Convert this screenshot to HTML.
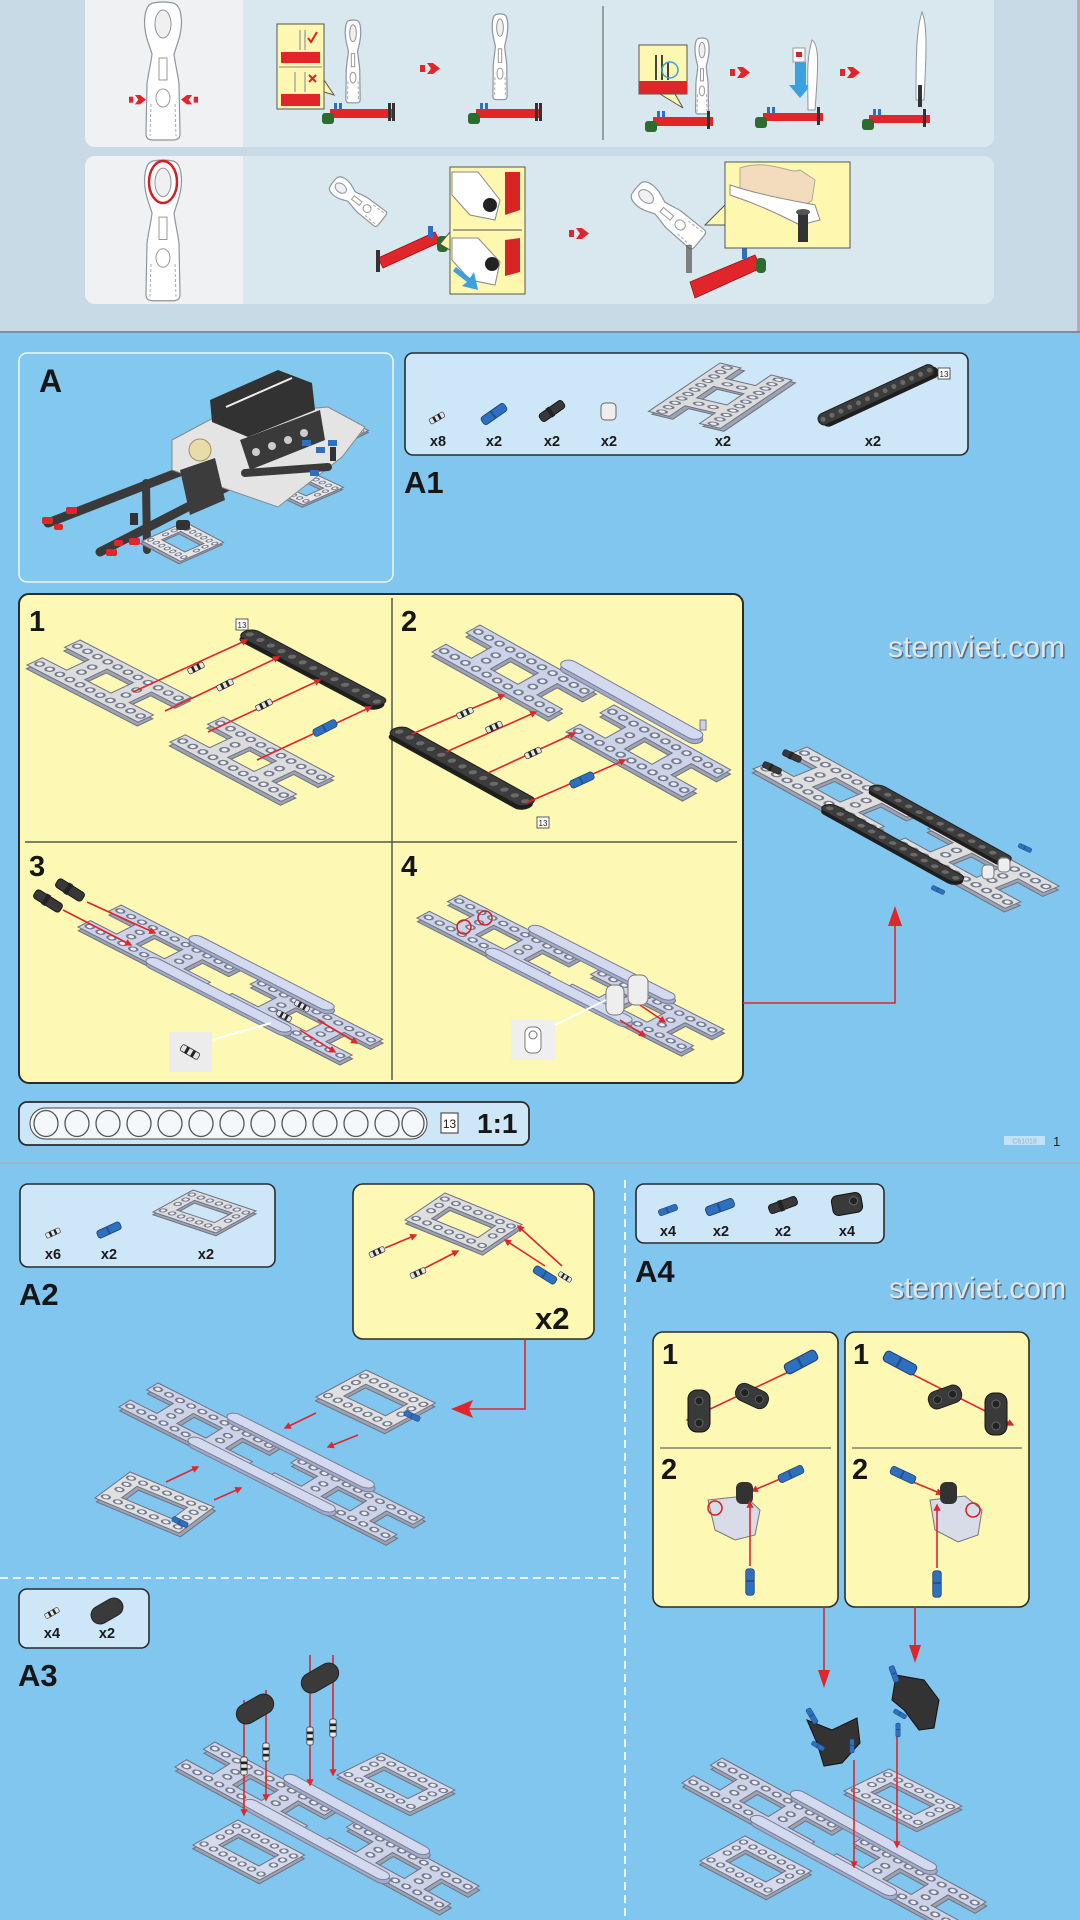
<!DOCTYPE html>
<html><head><meta charset="utf-8">
<style>
html,body{margin:0;padding:0;background:#80c6ee;width:1080px;height:1920px;overflow:hidden;}
svg{display:block;}
text{font-family:"Liberation Sans",Arial,sans-serif;}
.lb{font-weight:bold;font-size:14.5px;fill:#1a1a1a;text-anchor:middle;}
.big{font-weight:bold;fill:#161616;}
.rl{stroke:#e0262b;stroke-width:1.6;fill:none;}
</style></head><body>
<svg width="1080" height="1920" viewBox="0 0 1080 1920" xmlns="http://www.w3.org/2000/svg">
<defs>
 <marker id="ah" viewBox="0 0 10 10" refX="8" refY="5" markerWidth="4.5" markerHeight="4.5" orient="auto"><path d="M0,0 L10,5 L0,10 z" fill="#e0262b"/></marker>
 <g id="fH">
  <path fill-rule="evenodd" fill="#9ea3b2" stroke="#6d7282" stroke-width="1" vector-effect="non-scaling-stroke" transform="translate(0.35,0.4)" d="M0,0H11V1.45H8.6V3.55H11V5H0V3.55H2.4V1.45H0Z M4.2,1.45H6.8V3.55H4.2Z"/>
  <path fill-rule="evenodd" stroke="#6d7282" stroke-width="1" vector-effect="non-scaling-stroke" d="M0,0H11V1.45H8.6V3.55H11V5H0V3.55H2.4V1.45H0Z M4.2,1.45H6.8V3.55H4.2Z"/>
  <path d="M0.5,0.72H10.6M0.5,4.28H10.6M3.3,2V3.2M7.7,2V3.2" stroke="#767c8e" stroke-width="0.76" stroke-linecap="round" stroke-dasharray="0 1" fill="none"/>
  <path d="M0.5,0.72H10.6M0.5,4.28H10.6M3.3,2V3.2M7.7,2V3.2" stroke="#eceef4" stroke-width="0.42" stroke-linecap="round" stroke-dasharray="0 1" fill="none"/>
 </g>
 <g id="fO">
  <path fill-rule="evenodd" fill="#9ea3b2" stroke="#6d7282" stroke-width="1" vector-effect="non-scaling-stroke" transform="translate(0.35,0.4)" d="M0,0H7V5H0Z M1.4,1.4H5.6V3.6H1.4Z"/>
  <path fill-rule="evenodd" stroke="#6d7282" stroke-width="1" vector-effect="non-scaling-stroke" d="M0,0H7V5H0Z M1.4,1.4H5.6V3.6H1.4Z"/>
  <path d="M0.5,0.7H6.6M0.5,4.3H6.6M0.7,1.7V3.7M6.3,1.7V3.7" stroke="#767c8e" stroke-width="0.74" stroke-linecap="round" stroke-dasharray="0 1" fill="none"/>
  <path d="M0.5,0.7H6.6M0.5,4.3H6.6M0.7,1.7V3.7M6.3,1.7V3.7" stroke="#eceef4" stroke-width="0.42" stroke-linecap="round" stroke-dasharray="0 1" fill="none"/>
 </g>
 <g id="bmD"><rect width="13" height="1.2" rx="0.6" fill="#1f1f1f" transform="translate(0.3,0.35)"/><rect width="13" height="1.2" rx="0.6" fill="#3c3c3c" stroke="#1e1e1e" stroke-width="1" vector-effect="non-scaling-stroke"/><path d="M0.5,0.6H12.6" stroke="#6a6a6a" stroke-width="0.5" stroke-linecap="round" stroke-dasharray="0 1" fill="none"/></g>
 <g id="bmL"><rect width="13" height="1.2" rx="0.6" fill="#a3abc6" stroke="#767d96" stroke-width="1" vector-effect="non-scaling-stroke" transform="translate(0.35,0.4)"/><rect width="13" height="1.2" rx="0.6" fill="#d3d9ee" stroke="#767d96" stroke-width="1" vector-effect="non-scaling-stroke"/></g>
 <g id="chL">
  <use href="#fH" fill="#ccd2e7"/>
  <use href="#fH" x="13" fill="#ccd2e7"/>
  <use href="#bmL" x="6" y="-1.1"/>
  <use href="#bmL" x="6" y="3.9"/>
 </g>
 <g id="chD">
  <use href="#fH" fill="#dedede"/>
  <use href="#fH" x="13" fill="#dedede"/>
  <use href="#bmD" x="6.5" y="-0.3"/>
  <use href="#bmD" x="6.5" y="4.1"/>
 </g>
 <g id="pinBW"><rect x="-10" y="-3.5" width="20" height="7" rx="2" fill="#e6e6e6" stroke="#333" stroke-width="0.8"/><rect x="-5" y="-3.5" width="3" height="7" fill="#222"/><rect x="2" y="-3.5" width="3" height="7" fill="#222"/></g>
 <g id="pinB"><rect x="-14" y="-4.5" width="28" height="9" rx="3" fill="#2f6fbf" stroke="#1b3f70" stroke-width="0.8"/><rect x="-2" y="-4.5" width="2" height="9" fill="#1f5294"/></g>
 <g id="pinK"><rect x="-14" y="-4.5" width="28" height="9" rx="3" fill="#383838" stroke="#111" stroke-width="0.8"/><rect x="-4" y="-5.5" width="4" height="11" fill="#222"/></g>
 <g id="conK"><rect x="-17" y="-9" width="34" height="18" rx="8" fill="#3a3a3a" stroke="#151515" stroke-width="0.8"/><circle cx="-8" cy="0" r="4" fill="#222" stroke="#666" stroke-width="0.8"/><circle cx="8" cy="0" r="4" fill="#222" stroke="#666" stroke-width="0.8"/></g>
 <g id="wr">
  <path d="M-10,1 C-19,3 -21,22 -15,40 L-11,52 C-12,62 -15,72 -16,82 L-17,132 Q-17,138 -10,138 L10,138 Q17,138 17,132 L16,82 C15,72 12,62 11,52 L15,40 C21,22 19,3 10,1 Q0,-1 -10,1 Z" fill="#fff" stroke="#8e959c" stroke-width="1.2" vector-effect="non-scaling-stroke"/>
  <ellipse cx="0" cy="22" rx="8" ry="14" fill="#f0f0f0" stroke="#8e959c" stroke-width="1" vector-effect="non-scaling-stroke"/>
  <rect x="-4" y="56" width="8" height="22" fill="none" stroke="#999" stroke-width="1" vector-effect="non-scaling-stroke"/>
  <ellipse cx="0" cy="96" rx="7" ry="9" fill="none" stroke="#999" stroke-width="1" vector-effect="non-scaling-stroke"/>
  <path d="M-12,102 L-13,134 M12,102 L13,134" stroke="#aaa" stroke-dasharray="3 2" stroke-width="1" vector-effect="non-scaling-stroke"/>
 </g>
 <g id="rarr"><rect x="0" y="2" width="5" height="7" fill="#e0262b"/><polygon points="7,0 13,0 20,5.5 13,11 7,11 11,5.5" fill="#e0262b"/></g>
</defs>

<!-- ============ TOP SECTION ============ -->
<rect x="0" y="0" width="1080" height="333" fill="#c8dae5"/>
<rect x="1077" y="0" width="3" height="333" fill="#b9a9b0"/>
<rect x="85" y="-12" width="909" height="159" rx="10" fill="#d9e7ef"/>
<rect x="85" y="-12" width="158" height="159" rx="10" fill="#f0f1f2"/>
<rect x="230" y="-12" width="13" height="159" fill="#f0f1f2"/>
<rect x="85" y="156" width="909" height="148" rx="10" fill="#d9e7ef"/>
<rect x="85" y="156" width="158" height="148" rx="10" fill="#f0f1f2"/>
<rect x="230" y="156" width="13" height="148" fill="#f0f1f2"/>
<line x1="603" y1="6" x2="603" y2="140" stroke="#555" stroke-width="1"/>
<rect x="0" y="331" width="1080" height="2" fill="#7f8d98"/>

<!-- panel1 left wrench -->
<use href="#wr" transform="translate(163,2)"/>
<use href="#rarr" transform="translate(129,95) scale(0.85)"/>
<use href="#rarr" transform="translate(198,95) scale(-0.85,0.85)"/>
<!-- panel1 callout 1 -->
<rect x="277" y="24" width="47" height="85" fill="#fdf7b0" stroke="#555" stroke-width="1"/>
<polygon points="324,80 334,95 324,92" fill="#fdf7b0" stroke="#555" stroke-width="1"/>
<rect x="281" y="52" width="39" height="11" fill="#e0262b"/>
<rect x="281" y="94" width="39" height="12" fill="#e0262b"/>
<line x1="279" y1="67" x2="322" y2="67" stroke="#888" stroke-width="1"/>
<path d="M300,30 V50 M305,30 V50 M295,72 V92 M305,72 V92" stroke="#aaa" stroke-width="1.5"/>
<path d="M308,38 l3,4 l6,-10" stroke="#d22" stroke-width="2" fill="none"/>
<path d="M309,75 l7,7 M316,75 l-7,7" stroke="#d22" stroke-width="2"/>
<use href="#wr" transform="translate(353,20) scale(0.42,0.6)"/>
<rect x="330" y="109" width="64" height="9" fill="#e0262b"/>
<rect x="322" y="113" width="12" height="11" rx="3" fill="#2e6b2e"/>
<rect x="334" y="103" width="3" height="7" fill="#2f6fbf"/><rect x="339" y="103" width="3" height="7" fill="#2f6fbf"/>
<rect x="388" y="103" width="3" height="18" fill="#333"/><rect x="392" y="103" width="3" height="18" fill="#333"/>
<use href="#rarr" transform="translate(420,63)"/>
<use href="#wr" transform="translate(500,14) scale(0.42,0.62)"/>
<rect x="476" y="109" width="65" height="9" fill="#e0262b"/>
<rect x="468" y="113" width="12" height="11" rx="3" fill="#2e6b2e"/>
<rect x="480" y="103" width="3" height="7" fill="#2f6fbf"/><rect x="485" y="103" width="3" height="7" fill="#2f6fbf"/>
<rect x="535" y="103" width="3" height="18" fill="#333"/><rect x="539" y="103" width="3" height="18" fill="#333"/>
<!-- panel1 right half -->
<rect x="639" y="45" width="48" height="49" fill="#fdf7b0" stroke="#555" stroke-width="1"/>
<rect x="639" y="81" width="48" height="13" fill="#e0262b"/>
<polygon points="660,94 683,108 675,94" fill="#fdf7b0" stroke="#555" stroke-width="1"/>
<path d="M656,55 V80 M662,55 V80 M668,62 V80" stroke="#444" stroke-width="2"/>
<circle cx="670" cy="70" r="8" fill="none" stroke="#3aa0e0" stroke-width="1.5"/>
<use href="#wr" transform="translate(702,38) scale(0.38,0.55)"/>
<rect x="653" y="117" width="60" height="9" fill="#e0262b"/>
<rect x="645" y="121" width="12" height="11" rx="3" fill="#2e6b2e"/>
<rect x="657" y="111" width="3" height="7" fill="#2f6fbf"/><rect x="662" y="111" width="3" height="7" fill="#2f6fbf"/>
<rect x="707" y="111" width="3" height="18" fill="#333"/>
<use href="#rarr" transform="translate(730,67)"/>
<polygon points="795,62 806,62 806,85 811,85 800,98 789,85 795,85" fill="#3aa0e0"/>
<rect x="793" y="48" width="12" height="14" fill="#fff" stroke="#999"/>
<rect x="796" y="52" width="6" height="5" fill="#d22"/>
<path d="M812,40 C820,45 818,70 815,110 L808,110 C808,80 806,60 812,40 Z" fill="#fff" stroke="#8e959c"/>
<rect x="763" y="113" width="60" height="8" fill="#e0262b"/>
<rect x="755" y="117" width="12" height="11" rx="3" fill="#2e6b2e"/>
<rect x="767" y="107" width="3" height="7" fill="#2f6fbf"/><rect x="772" y="107" width="3" height="7" fill="#2f6fbf"/>
<rect x="817" y="107" width="3" height="18" fill="#333"/>
<use href="#rarr" transform="translate(840,67)"/>
<path d="M922,12 C928,25 926,60 924,100 L916,100 C916,60 916,30 922,12 Z" fill="#fff" stroke="#8e959c"/>
<rect x="918" y="85" width="4" height="22" fill="#333"/>
<rect x="869" y="115" width="61" height="8" fill="#e0262b"/>
<rect x="862" y="119" width="12" height="11" rx="3" fill="#2e6b2e"/>
<rect x="873" y="109" width="3" height="7" fill="#2f6fbf"/><rect x="878" y="109" width="3" height="7" fill="#2f6fbf"/>
<rect x="923" y="109" width="3" height="18" fill="#333"/>

<!-- panel2 -->
<use href="#wr" transform="translate(163,160) scale(1,1.02)"/>
<ellipse cx="163" cy="182" rx="14" ry="21" fill="none" stroke="#d42020" stroke-width="2.5"/>
<use href="#wr" transform="translate(333,182) rotate(-52) scale(0.55,0.45)"/>
<polygon points="378,258 435,232 440,242 383,268" fill="#e0262b" stroke="#a01010" stroke-width="0.8"/>
<rect x="376" y="250" width="4" height="22" fill="#333"/>
<rect x="428" y="226" width="5" height="12" fill="#2f6fbf"/>
<rect x="437" y="236" width="11" height="16" rx="4" fill="#2e6b2e"/>
<rect x="450" y="167" width="75" height="127" fill="#fdf7b0" stroke="#555" stroke-width="1"/>
<polygon points="450,232 440,244 450,250" fill="#fdf7b0" stroke="#555" stroke-width="1"/>
<line x1="453" y1="230" x2="522" y2="230" stroke="#555" stroke-width="1"/>
<path d="M452,172 L478,172 L500,200 L495,220 L470,215 L452,195 Z" fill="#fff" stroke="#888"/>
<polygon points="505,172 520,172 520,210 505,215" fill="#d82424"/>
<circle cx="490" cy="205" r="7" fill="#222"/>
<path d="M452,238 L478,238 L500,262 L495,285 L470,280 L452,260 Z" fill="#fff" stroke="#888"/>
<polygon points="505,240 520,238 520,272 505,276" fill="#d82424"/>
<circle cx="492" cy="264" r="7" fill="#222"/>
<polygon points="456,267 470,278 474,272 478,290 462,286 467,282 453,271" fill="#3aa0e0"/>
<use href="#rarr" transform="translate(569,228)"/>
<use href="#wr" transform="translate(636,188) rotate(-50) scale(0.7,0.6)"/>
<rect x="686" y="245" width="6" height="28" fill="#555" opacity="0.7"/>
<polygon points="690,282 755,255 761,268 695,298" fill="#e0262b" stroke="#a01010" stroke-width="0.8"/>
<rect x="742" y="246" width="5" height="13" fill="#2f6fbf"/>
<rect x="756" y="258" width="10" height="15" rx="4" fill="#2e6b2e"/>
<rect x="725" y="162" width="125" height="86" fill="#fdf7b0" stroke="#555" stroke-width="1"/>
<polygon points="725,205 705,225 725,225" fill="#fdf7b0" stroke="#555" stroke-width="1"/>
<path d="M740,168 C770,158 790,175 800,170 L815,180 L812,200 L800,210 C780,200 760,195 740,190 Z" fill="#f2dcbd" stroke="#aa9"/>
<path d="M730,185 C760,195 790,200 815,205 L820,220 L800,225 C780,215 760,205 730,195 Z" fill="#fff" stroke="#888"/>
<rect x="798" y="212" width="10" height="30" fill="#333"/>
<ellipse cx="803" cy="212" rx="7" ry="3" fill="#555"/>

<!-- ============ BLUE PAGE 1 ============ -->
<rect x="0" y="334" width="1080" height="830" fill="#80c6ee"/>
<!-- A box -->
<rect x="19" y="353" width="374" height="229" rx="8" fill="#82c8ef" stroke="#eef7fc" stroke-width="1.5"/>
<text x="39" y="392" class="big" font-size="32">A</text>
<!-- A model -->
<line x1="48" y1="523" x2="205" y2="462" stroke="#3a3a3a" stroke-width="9" stroke-linecap="round"/>
<line x1="100" y1="552" x2="250" y2="475" stroke="#3a3a3a" stroke-width="9" stroke-linecap="round"/>
<line x1="146" y1="483" x2="147" y2="550" stroke="#3a3a3a" stroke-width="8" stroke-linecap="round"/>
<use href="#fO" fill="#e6e6e6" transform="matrix(5.5,2.9,-8.6,3.8,185,522)"/>
<use href="#fO" fill="#e6e6e6" transform="matrix(6.2,2.9,-8,3.5,300,467)"/>
<use href="#fO" fill="#e6e6e6" transform="matrix(5.5,2.5,-6,3,330,413)"/>
<polygon points="172,440 215,417 328,407 365,427 342,457 278,507 172,470" fill="#e4e4e4" stroke="#888" stroke-width="1"/>
<line x1="245" y1="473" x2="328" y2="467" stroke="#3a3a3a" stroke-width="8" stroke-linecap="round"/>
<polygon points="240,440 320,410 325,440 250,470" fill="#3a3a3a"/>
<circle cx="256" cy="452" r="4" fill="#ccc"/><circle cx="272" cy="446" r="4" fill="#ccc"/><circle cx="288" cy="440" r="4" fill="#ccc"/><circle cx="304" cy="433" r="4" fill="#ccc"/>
<polygon points="210,400 278,370 312,383 315,410 248,437 212,422" fill="#323232"/>
<line x1="226" y1="407" x2="292" y2="378" stroke="#eee" stroke-width="2"/>
<polygon points="180,470 215,458 225,500 190,515" fill="#3c3c3c"/>
<circle cx="200" cy="450" r="11" fill="#e8dca8" stroke="#a09060" stroke-width="1"/>
<rect x="302" y="440" width="9" height="6" fill="#2f6fbf"/><rect x="316" y="447" width="9" height="6" fill="#2f6fbf"/><rect x="328" y="440" width="9" height="6" fill="#2f6fbf"/><rect x="310" y="470" width="9" height="6" fill="#2f6fbf"/>
<rect x="330" y="447" width="6" height="14" fill="#333"/>
<rect x="42" y="517" width="11" height="7" rx="2" fill="#e0262b"/><rect x="66" y="507" width="11" height="7" rx="2" fill="#e0262b"/>
<rect x="106" y="549" width="11" height="7" rx="2" fill="#e0262b"/><rect x="129" y="538" width="11" height="7" rx="2" fill="#e0262b"/>
<rect x="54" y="524" width="9" height="6" rx="2" fill="#e0262b"/><rect x="114" y="540" width="9" height="6" rx="2" fill="#e0262b"/>
<rect x="176" y="520" width="14" height="10" rx="3" fill="#333"/><rect x="130" y="513" width="8" height="12" fill="#333"/>

<!-- A1 parts box -->
<rect x="405" y="353" width="563" height="102" rx="8" fill="#cde6f8" stroke="#2b2b2b" stroke-width="1.6"/>
<use href="#pinBW" transform="translate(437,418) rotate(-30) scale(0.8)"/>
<use href="#pinB" transform="translate(494,414) rotate(-35)"/>
<use href="#pinK" transform="translate(552,411) rotate(-35)"/>
<rect x="601" y="403" width="15" height="17" rx="4" fill="#eee" stroke="#666" stroke-width="1"/>
<use href="#fH" fill="#dcdcdc" transform="matrix(-6.5,4.4,14.4,3.4,720,363)"/>
<use href="#bmD" transform="matrix(8.85,-4.1,4.5,9,816,416)"/>
<rect x="938" y="368" width="12" height="11" fill="#fff" stroke="#333" stroke-width="0.8"/>
<text x="944" y="377" font-size="8" text-anchor="middle" fill="#222">13</text>
<text x="438" y="446" class="lb">x8</text>
<text x="494" y="446" class="lb">x2</text>
<text x="552" y="446" class="lb">x2</text>
<text x="609" y="446" class="lb">x2</text>
<text x="723" y="446" class="lb">x2</text>
<text x="873" y="446" class="lb">x2</text>
<text x="404" y="493" class="big" font-size="31">A1</text>

<!-- watermark 1 -->
<text x="889.5" y="658.5" font-size="30" fill="#5d6f7e" textLength="177" lengthAdjust="spacingAndGlyphs">stemviet.com</text>
<text x="888" y="657" font-size="30" fill="#e2e6ea" textLength="177" lengthAdjust="spacingAndGlyphs">stemviet.com</text>

<!-- step box -->
<rect x="19" y="594" width="724" height="489" rx="10" fill="#fdf9b4" stroke="#2b2b2b" stroke-width="2"/>
<line x1="392" y1="598" x2="392" y2="1080" stroke="#555" stroke-width="1.5"/>
<line x1="25" y1="842" x2="737" y2="842" stroke="#555" stroke-width="1.5"/>
<text x="29" y="631" class="big" font-size="29">1</text>
<text x="401" y="631" class="big" font-size="29">2</text>
<text x="29" y="876" class="big" font-size="29">3</text>
<text x="401" y="876" class="big" font-size="29">4</text>

<!-- step 1 -->
<use href="#fH" fill="#dcdcdc" transform="matrix(10.1,5.2,-10.6,5,80,640)"/>
<use href="#fH" fill="#dcdcdc" transform="matrix(10.1,5.4,-10.6,5,223,717)"/>
<use href="#bmD" transform="matrix(10.6,5.6,-10.6,5,252,628) scale(1,1.2)"/>
<rect x="236" y="619" width="12" height="11" fill="#fff" stroke="#333" stroke-width="0.8"/>
<text x="242" y="628" font-size="8" text-anchor="middle" fill="#222">13</text>
<line x1="133" y1="692" x2="247" y2="640" class="rl" marker-end="url(#ah)"/>
<line x1="165" y1="711" x2="279" y2="657" class="rl" marker-end="url(#ah)"/>
<line x1="208" y1="732" x2="320" y2="680" class="rl" marker-end="url(#ah)"/>
<line x1="257" y1="760" x2="371" y2="707" class="rl" marker-end="url(#ah)"/>
<use href="#pinBW" transform="translate(196,668) rotate(-27) scale(0.85)"/>
<use href="#pinBW" transform="translate(225,685) rotate(-27) scale(0.85)"/>
<use href="#pinBW" transform="translate(264,705) rotate(-27) scale(0.85)"/>
<use href="#pinB" transform="translate(325,728) rotate(-27) scale(0.9)"/>

<!-- step 2 -->
<use href="#fH" fill="#ccd2e7" transform="matrix(10.6,5.9,-9.6,5.4,480,625)"/>
<use href="#bmL" transform="matrix(10.6,5.9,-9.6,5.4,480,625) translate(7,-1.5)"/>
<use href="#fH" fill="#ccd2e7" transform="matrix(10.6,5.9,-9.6,5.4,480,625) translate(13.1,0.5)"/>
<rect x="700" y="720" width="6" height="10" fill="#ccd2e7" stroke="#767d96"/>
<use href="#bmD" transform="matrix(10.5,5.8,-10.6,5,402,725) scale(1,1.25)"/>
<rect x="537" y="817" width="12" height="11" fill="#fff" stroke="#333" stroke-width="0.8"/>
<text x="543" y="826" font-size="8" text-anchor="middle" fill="#222">13</text>
<line x1="412" y1="734" x2="504" y2="695" class="rl" marker-end="url(#ah)"/>
<line x1="446" y1="752" x2="536" y2="712" class="rl" marker-end="url(#ah)"/>
<line x1="488" y1="773" x2="575" y2="733" class="rl" marker-end="url(#ah)"/>
<line x1="526" y1="803" x2="625" y2="760" class="rl" marker-end="url(#ah)"/>
<use href="#pinBW" transform="translate(465,713) rotate(-25) scale(0.85)"/>
<use href="#pinBW" transform="translate(494,727) rotate(-25) scale(0.85)"/>
<use href="#pinBW" transform="translate(533,753) rotate(-25) scale(0.85)"/>
<use href="#pinB" transform="translate(582,780) rotate(-25) scale(0.9)"/>

<!-- step 3 -->
<use href="#chL" transform="matrix(10.9,5.6,-8.6,4.4,121,905)"/>
<use href="#pinK" transform="translate(48,901) rotate(32) scale(1.1)"/>
<use href="#pinK" transform="translate(70,890) rotate(32) scale(1.1)"/>
<line x1="63" y1="910" x2="131" y2="945" class="rl" marker-end="url(#ah)"/>
<line x1="87" y1="902" x2="155" y2="933" class="rl" marker-end="url(#ah)"/>
<use href="#pinBW" transform="translate(284,1016) rotate(30) scale(0.8)"/>
<use href="#pinBW" transform="translate(302,1006) rotate(30) scale(0.8)"/>
<line x1="300" y1="1030" x2="335" y2="1052" class="rl" marker-end="url(#ah)"/>
<line x1="318" y1="1020" x2="357" y2="1043" class="rl" marker-end="url(#ah)"/>
<line x1="212" y1="1040" x2="271" y2="1023" stroke="#fff" stroke-width="2"/>
<rect x="169" y="1032" width="43" height="40" fill="#ececec"/>
<use href="#pinBW" transform="translate(190,1052) rotate(30)"/>

<!-- step 4 -->
<use href="#chL" transform="matrix(11,5.6,-8.6,4.6,460,895)"/>
<circle cx="464" cy="927" r="7" fill="none" stroke="#d42020" stroke-width="1.6"/>
<circle cx="485" cy="918" r="7" fill="none" stroke="#d42020" stroke-width="1.6"/>
<rect x="606" y="985" width="18" height="30" rx="7" fill="#eee" stroke="#777"/>
<rect x="628" y="975" width="20" height="30" rx="7" fill="#eee" stroke="#777"/>
<line x1="640" y1="1005" x2="665" y2="1022" class="rl" marker-end="url(#ah)"/>
<line x1="620" y1="1020" x2="645" y2="1036" class="rl" marker-end="url(#ah)"/>
<line x1="555" y1="1025" x2="606" y2="1000" stroke="#fff" stroke-width="2"/>
<rect x="511" y="1020" width="44" height="40" fill="#efefef"/>
<rect x="525" y="1027" width="16" height="26" rx="6" fill="#fff" stroke="#777"/>
<circle cx="533" cy="1035" r="4" fill="none" stroke="#777"/>

<!-- result -->
<use href="#chD" transform="matrix(10.5,5.8,-10.8,4.4,807,747)"/>
<use href="#pinK" transform="translate(792,756) rotate(25) scale(0.7)"/>
<use href="#pinK" transform="translate(772,768) rotate(25) scale(0.7)"/>
<use href="#pinB" transform="translate(1025,848) rotate(25) scale(0.5)"/>
<use href="#pinB" transform="translate(938,890) rotate(25) scale(0.5)"/>
<rect x="982" y="865" width="12" height="14" rx="4" fill="#eee" stroke="#777"/>
<rect x="998" y="858" width="12" height="14" rx="4" fill="#eee" stroke="#777"/>
<path d="M743,1003 H895 V922" class="rl"/>
<polygon points="895,906 888,926 902,926" fill="#e0262b"/>

<!-- ruler -->
<rect x="19" y="1102" width="510" height="43" rx="8" fill="#cde6f8" stroke="#2b2b2b" stroke-width="1.8"/>
<rect x="30" y="1108" width="397" height="31" rx="15.5" fill="#f4f8fb" stroke="#444" stroke-width="1"/>
<g fill="none" stroke="#555" stroke-width="1.3">
<ellipse cx="46" cy="1123.5" rx="12" ry="13"/><ellipse cx="77" cy="1123.5" rx="12" ry="13"/><ellipse cx="108" cy="1123.5" rx="12" ry="13"/><ellipse cx="139" cy="1123.5" rx="12" ry="13"/><ellipse cx="170" cy="1123.5" rx="12" ry="13"/><ellipse cx="201" cy="1123.5" rx="12" ry="13"/><ellipse cx="232" cy="1123.5" rx="12" ry="13"/><ellipse cx="263" cy="1123.5" rx="12" ry="13"/><ellipse cx="294" cy="1123.5" rx="12" ry="13"/><ellipse cx="325" cy="1123.5" rx="12" ry="13"/><ellipse cx="356" cy="1123.5" rx="12" ry="13"/><ellipse cx="387" cy="1123.5" rx="12" ry="13"/><ellipse cx="413" cy="1123.5" rx="11" ry="13"/>
</g>
<rect x="441" y="1113" width="17" height="20" fill="#fff" stroke="#333" stroke-width="1"/>
<text x="449.5" y="1128" font-size="12" text-anchor="middle" fill="#222">13</text>
<text x="477" y="1133" class="big" font-size="28">1:1</text>
<rect x="1004" y="1136" width="41" height="9" fill="#c3e2f7"/>
<text x="1024.5" y="1143.5" font-size="7" text-anchor="middle" fill="#8fb0c6">C61018</text>
<text x="1053" y="1146" font-size="13" fill="#222">1</text>
<rect x="0" y="1162" width="1080" height="2" fill="#9fb5c4"/>

<!-- ============ BLUE PAGE 2 ============ -->
<line x1="0" y1="1578" x2="625" y2="1578" stroke="#eef7fc" stroke-width="2" stroke-dasharray="8 5"/>
<line x1="625" y1="1180" x2="625" y2="1920" stroke="#eef7fc" stroke-width="2" stroke-dasharray="8 5"/>

<!-- A2 -->
<rect x="20" y="1184" width="255" height="83" rx="8" fill="#cde6f8" stroke="#2b2b2b" stroke-width="1.6"/>
<use href="#pinBW" transform="translate(53,1233) rotate(-25) scale(0.75)"/>
<use href="#pinB" transform="translate(109,1230) rotate(-25) scale(0.9)"/>
<use href="#fO" fill="#dedede" transform="matrix(9,3,-8,4.4,193,1190)"/>
<text x="53" y="1259" class="lb">x6</text>
<text x="109" y="1259" class="lb">x2</text>
<text x="206" y="1259" class="lb">x2</text>
<text x="19" y="1305" class="big" font-size="31">A2</text>

<rect x="353" y="1184" width="241" height="155" rx="10" fill="#fdf9b4" stroke="#2b2b2b" stroke-width="1.6"/>
<use href="#fO" fill="#dedede" transform="matrix(11,4.5,-8,5.4,445,1193)"/>
<line x1="385" y1="1248" x2="416" y2="1235" class="rl" marker-end="url(#ah)"/>
<line x1="425" y1="1268" x2="458" y2="1251" class="rl" marker-end="url(#ah)"/>
<line x1="545" y1="1266" x2="505" y2="1240" class="rl" marker-end="url(#ah)"/>
<line x1="562" y1="1266" x2="518" y2="1226" class="rl" marker-end="url(#ah)"/>
<use href="#pinBW" transform="translate(377,1252) rotate(-25) scale(0.8)"/>
<use href="#pinBW" transform="translate(418,1273) rotate(-25) scale(0.8)"/>
<use href="#pinB" transform="translate(545,1275) rotate(32) scale(0.9)"/>
<use href="#pinBW" transform="translate(565,1277) rotate(32) scale(0.7)"/>
<text x="535" y="1329" class="big" font-size="31">x2</text>
<path d="M525,1339 V1409 H468" class="rl" stroke-width="2"/>
<polygon points="451,1409 473,1400 469,1409 473,1418" fill="#e0262b"/>

<use href="#chL" transform="matrix(11.1,5.6,-7.8,4.8,158,1383)"/>
<use href="#fO" fill="#e0e0e0" transform="matrix(9.9,4.7,-10,5.4,366,1370)"/>
<use href="#fO" fill="#e0e0e0" transform="matrix(12,5,-7,5.2,130,1472)"/>
<use href="#pinB" transform="translate(412,1416) rotate(25) scale(0.6)"/>
<use href="#pinB" transform="translate(180,1522) rotate(25) scale(0.6)"/>
<line x1="316" y1="1413" x2="285" y2="1428" class="rl" marker-end="url(#ah)"/>
<line x1="358" y1="1435" x2="328" y2="1447" class="rl" marker-end="url(#ah)"/>
<line x1="166" y1="1482" x2="198" y2="1467" class="rl" marker-end="url(#ah)"/>
<line x1="214" y1="1500" x2="241" y2="1488" class="rl" marker-end="url(#ah)"/>

<!-- A3 -->
<rect x="19" y="1589" width="130" height="59" rx="8" fill="#cde6f8" stroke="#2b2b2b" stroke-width="1.6"/>
<use href="#pinBW" transform="translate(52,1613) rotate(-30) scale(0.75)"/>
<g transform="translate(107,1611) rotate(-30)"><rect x="-17" y="-9" width="34" height="18" rx="9" fill="#3a3a3a" stroke="#222"/></g>
<text x="52" y="1638" class="lb">x4</text>
<text x="107" y="1638" class="lb">x2</text>
<text x="18" y="1686" class="big" font-size="31">A3</text>

<g id="asm">
 <use href="#chL" transform="matrix(11,6,-8,5,215,1742)"/>
 <use href="#fO" fill="#d6dbec" transform="matrix(10.4,5.3,-9,4.4,382,1753)"/>
 <use href="#fO" fill="#d6dbec" transform="matrix(9.5,5,-9,5,238,1820)"/>
</g>
<line x1="244" y1="1700" x2="244" y2="1815" class="rl" marker-end="url(#ah)"/>
<line x1="266" y1="1690" x2="266" y2="1800" class="rl" marker-end="url(#ah)"/>
<line x1="310" y1="1655" x2="310" y2="1785" class="rl" marker-end="url(#ah)"/>
<line x1="333" y1="1655" x2="333" y2="1775" class="rl" marker-end="url(#ah)"/>
<g transform="translate(255,1709) rotate(-30)"><rect x="-20" y="-10" width="40" height="20" rx="10" fill="#3a3a3a" stroke="#222"/></g>
<g transform="translate(320,1678) rotate(-30)"><rect x="-20" y="-10" width="40" height="20" rx="10" fill="#3a3a3a" stroke="#222"/></g>
<use href="#pinBW" transform="translate(244,1766) rotate(90) scale(0.9)"/>
<use href="#pinBW" transform="translate(266,1752) rotate(90) scale(0.9)"/>
<use href="#pinBW" transform="translate(310,1736) rotate(90) scale(0.9)"/>
<use href="#pinBW" transform="translate(333,1728) rotate(90) scale(0.9)"/>

<!-- A4 -->
<rect x="636" y="1184" width="248" height="59" rx="8" fill="#cde6f8" stroke="#2b2b2b" stroke-width="1.6"/>
<use href="#pinB" transform="translate(668,1210) rotate(-20) scale(0.7)"/>
<use href="#pinB" transform="translate(720,1207) rotate(-20) scale(1.05)"/>
<use href="#pinK" transform="translate(783,1205) rotate(-20) scale(1.05)"/>
<g transform="translate(847,1204) rotate(-10)"><rect x="-15" y="-10" width="30" height="20" rx="6" fill="#3a3a3a" stroke="#111"/><circle cx="7" cy="-2" r="4" fill="#222" stroke="#666"/></g>
<text x="668" y="1236" class="lb">x4</text>
<text x="721" y="1236" class="lb">x2</text>
<text x="783" y="1236" class="lb">x2</text>
<text x="847" y="1236" class="lb">x4</text>
<text x="635" y="1282" class="big" font-size="31">A4</text>
<text x="890.5" y="1299.5" font-size="30" fill="#5d6f7e" textLength="177" lengthAdjust="spacingAndGlyphs">stemviet.com</text>
<text x="889" y="1298" font-size="30" fill="#e2e6ea" textLength="177" lengthAdjust="spacingAndGlyphs">stemviet.com</text>

<rect x="653" y="1332" width="185" height="275" rx="10" fill="#fdf9b4" stroke="#2b2b2b" stroke-width="1.6"/>
<rect x="845" y="1332" width="184" height="275" rx="10" fill="#fdf9b4" stroke="#2b2b2b" stroke-width="1.6"/>
<line x1="660" y1="1448" x2="831" y2="1448" stroke="#666" stroke-width="1.2"/>
<line x1="852" y1="1448" x2="1022" y2="1448" stroke="#666" stroke-width="1.2"/>
<text x="662" y="1364" class="big" font-size="29">1</text>
<text x="661" y="1479" class="big" font-size="29">2</text>
<text x="853" y="1364" class="big" font-size="29">1</text>
<text x="852" y="1479" class="big" font-size="29">2</text>
<!-- box1 -->
<line x1="818" y1="1358" x2="687" y2="1420" class="rl" marker-end="url(#ah)"/>
<use href="#pinB" transform="translate(801,1362) rotate(-28) scale(1.25)"/>
<use href="#conK" transform="translate(752,1396) rotate(25)"/>
<g transform="translate(699,1411)"><rect x="-11" y="-21" width="22" height="42" rx="9" fill="#3a3a3a" stroke="#111"/><circle cx="0" cy="-10" r="4" fill="#222" stroke="#666"/><circle cx="0" cy="12" r="4" fill="#222" stroke="#666"/></g>
<line x1="780" y1="1479" x2="752" y2="1491" class="rl" marker-end="url(#ah)"/>
<use href="#pinB" transform="translate(791,1474) rotate(-25) scale(0.95)"/>
<path d="M708,1500 L745,1496 L760,1510 L755,1535 L735,1540 L715,1530 Z" fill="#d8dbe8" stroke="#777"/>
<rect x="736" y="1482" width="17" height="22" rx="6" fill="#333"/>
<circle cx="715" cy="1508" r="7" fill="none" stroke="#d42020" stroke-width="1.5"/>
<line x1="750" y1="1566" x2="750" y2="1502" class="rl" marker-end="url(#ah)"/>
<use href="#pinB" transform="translate(750,1582) rotate(90) scale(0.95)"/>
<!-- box2 -->
<line x1="888" y1="1362" x2="1013" y2="1425" class="rl" marker-end="url(#ah)"/>
<use href="#pinB" transform="translate(900,1363) rotate(28) scale(1.25)"/>
<use href="#conK" transform="translate(945,1397) rotate(-20)"/>
<g transform="translate(996,1414)"><rect x="-11" y="-21" width="22" height="42" rx="9" fill="#3a3a3a" stroke="#111"/><circle cx="0" cy="-10" r="4" fill="#222" stroke="#666"/><circle cx="0" cy="12" r="4" fill="#222" stroke="#666"/></g>
<line x1="913" y1="1482" x2="942" y2="1494" class="rl" marker-end="url(#ah)"/>
<use href="#pinB" transform="translate(903,1475) rotate(25) scale(0.95)"/>
<path d="M930,1500 L965,1496 L982,1510 L978,1535 L958,1542 L935,1530 Z" fill="#d8dbe8" stroke="#777"/>
<rect x="940" y="1482" width="17" height="22" rx="6" fill="#333"/>
<circle cx="973" cy="1510" r="7" fill="none" stroke="#d42020" stroke-width="1.5"/>
<line x1="937" y1="1568" x2="937" y2="1505" class="rl" marker-end="url(#ah)"/>
<use href="#pinB" transform="translate(937,1584) rotate(90) scale(0.95)"/>

<line x1="824" y1="1607" x2="824" y2="1674" class="rl" stroke-width="1.8"/>
<polygon points="824,1688 818,1670 830,1670" fill="#e0262b"/>
<line x1="915" y1="1607" x2="915" y2="1650" class="rl" stroke-width="1.8"/>
<polygon points="915,1663 909,1645 921,1645" fill="#e0262b"/>

<use href="#asm" transform="translate(507,16)"/>
<line x1="854" y1="1760" x2="854" y2="1867" class="rl" marker-end="url(#ah)"/>
<line x1="897" y1="1730" x2="897" y2="1847" class="rl" marker-end="url(#ah)"/>
<g transform="translate(832,1738)"><polygon points="-25,-18 0,-8 25,-20 28,5 10,25 -8,28 -15,5" fill="#333" stroke="#111"/><use href="#pinB" transform="translate(-20,-22) rotate(60) scale(0.6)"/><use href="#pinB" transform="translate(-14,8) rotate(30) scale(0.5)"/><use href="#pinB" transform="translate(20,8) rotate(90) scale(0.5)"/></g>
<g transform="translate(914,1700)"><polygon points="-18,-25 10,-20 25,0 20,28 5,30 -10,10 -22,0" fill="#333" stroke="#111"/><use href="#pinB" transform="translate(-20,-26) rotate(70) scale(0.6)"/><use href="#pinB" transform="translate(-14,14) rotate(30) scale(0.5)"/><use href="#pinB" transform="translate(-16,30) rotate(90) scale(0.5)"/></g>
</svg>
</body></html>
